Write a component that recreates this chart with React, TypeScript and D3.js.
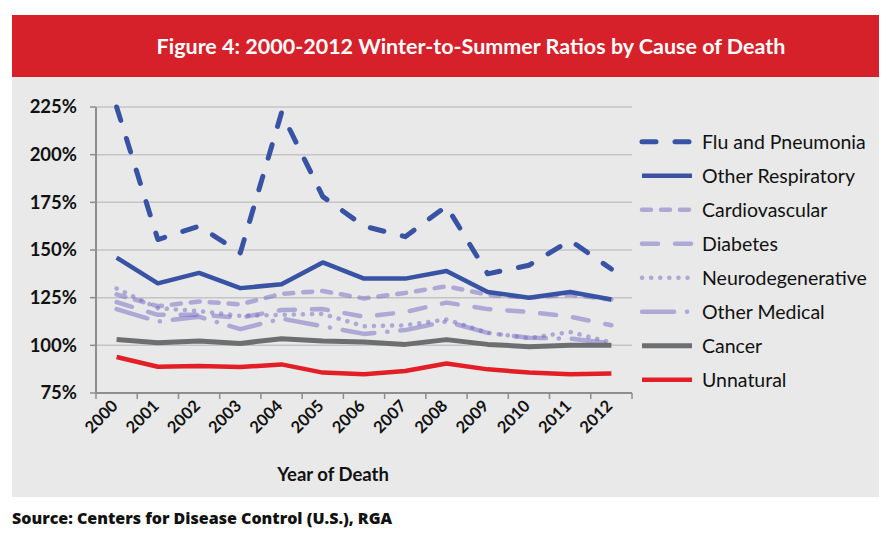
import React from "react";
import * as d3 from "d3";

const years = ["2000","2001","2002","2003","2004","2005","2006","2007","2008","2009","2010","2011","2012"];
const flu = [225, 155.5, 162.5, 148.5, 222, 178, 162.5, 157, 173, 137.5, 142, 155, 140];
const otherResp = [146, 132.5, 138, 130, 132, 143.5, 135, 135, 139, 128, 125, 128, 124];
const cardio = [126.7, 120.5, 123, 121.5, 127, 128.5, 124.6, 127.5, 131, 126.5, 125, 126.5, 124];
const diabetes = [122.7, 116, 116, 114.5, 118.5, 119, 115, 117.5, 122.4, 119, 117.5, 115, 110.5];
const neuro = [129.8, 119.5, 118, 115.5, 116, 116.5, 110, 110.5, 113.6, 106.6, 103.8, 107, 101.5];
const otherMed = [119, 112.5, 115, 108.5, 114, 110, 106, 108, 112.5, 106.5, 104, 103.5, 101];
const cancer = [103, 101.4, 102.3, 101, 103.5, 102.3, 101.7, 100.5, 103, 100.5, 99.3, 100, 100];
const unnatural = [93.9, 88.8, 89.2, 88.6, 90, 85.7, 84.8, 86.5, 90.5, 87.4, 85.7, 84.8, 85.2];
const yTicks = [75, 100, 125, 150, 175, 200, 225];

const BLUE = "#3953a4";
const LAV = "#7467c4";
const LAV_OP = 0.5;

type S = { name: string; values: number[]; color: string; width: number; dash?: string; opacity?: number };
const series: S[] = [
  { name: "Flu and Pneumonia", values: flu, color: BLUE, width: 5, dash: "14 19" },
  { name: "Other Respiratory", values: otherResp, color: BLUE, width: 4.5 },
  { name: "Cardiovascular", values: cardio, color: LAV, width: 4.5, dash: "9 10", opacity: LAV_OP },
  { name: "Diabetes", values: diabetes, color: LAV, width: 4.5, dash: "16 17", opacity: LAV_OP },
  { name: "Neurodegenerative", values: neuro, color: LAV, width: 4.5, dash: "0.1 9", opacity: LAV_OP },
  { name: "Other Medical", values: otherMed, color: LAV, width: 4.5, dash: "32 13 0.1 13", opacity: LAV_OP },
  { name: "Cancer", values: cancer, color: "#6d6e70", width: 5 },
  { name: "Unnatural", values: unnatural, color: "#e31e26", width: 4.5 },
];
const drawOrder = [2, 3, 4, 5, 0, 1, 6, 7];

export default function App() {
  const W = 892, H = 540;
  const x = d3.scaleBand<string>().domain(years).range([96, 632]);
  const y = d3.scaleLinear().domain([75, 225]).range([393, 107]);
  const cx = (yr: string) => (x(yr) as number) + x.bandwidth() / 2;
  const line = d3.line<number>().x((_, i) => cx(years[i])).y((v) => y(v));
  const font = "Lato, 'Open Sans', sans-serif";
  const boundaries = d3.range(years.length + 1).map((i) => 96 + i * x.step());

  return (
    <svg width={W} height={H} style={{ position: "absolute", left: 0, top: 0 }}>
      <rect x={0} y={0} width={W} height={H} fill="#ffffff" />
      <rect x={12} y={77} width={867} height={420} fill="#e8e9e8" />
      <rect x={12} y={15} width={867} height={62} fill="#d6202a" />
      <text x={471} y={54} textAnchor="middle" fill="#ffffff" fontFamily={font} fontWeight={700} fontSize={21.5}>
        Figure 4: 2000-2012 Winter-to-Summer Ratios by Cause of Death
      </text>

      {yTicks.filter((t) => t !== 75).map((t) => (
        <line key={"g" + t} x1={96} x2={632} y1={y(t)} y2={y(t)} stroke="#c4c4c4" strokeWidth={1.5} />
      ))}
      {yTicks.map((t) => (
        <g key={"yt" + t}>
          <line x1={90} x2={96} y1={y(t)} y2={y(t)} stroke="#8e8e8e" strokeWidth={1.5} />
          <text x={77} y={y(t)} dy="0.35em" textAnchor="end" fontFamily={font} fontWeight={700} fontSize={18.5} fill="#111">
            {t + "%"}
          </text>
        </g>
      ))}
      <line x1={96} x2={96} y1={107} y2={393} stroke="#8e8e8e" strokeWidth={2} />
      <line x1={96} x2={632} y1={393} y2={393} stroke="#8e8e8e" strokeWidth={2} />
      {boundaries.map((b, i) => (
        <line key={"xt" + i} x1={b} x2={b} y1={393} y2={399} stroke="#8e8e8e" strokeWidth={1.5} />
      ))}
      {years.map((yr) => (
        <text key={"xl" + yr} transform={`translate(${cx(yr) - 2},${403}) rotate(-45)`} textAnchor="end" dy="0.35em"
          fontFamily={font} fontWeight={700} fontSize={16.5} fill="#111">
          {yr}
        </text>
      ))}
      <text x={333} y={481} textAnchor="middle" fontFamily={font} fontWeight={700} fontSize={18.5} fill="#111">
        Year of Death
      </text>

      {drawOrder.map((i) => {
        const s = series[i];
        return (
          <path key={"s" + i} d={line(s.values) as string} fill="none" stroke={s.color} strokeWidth={s.width}
            strokeDasharray={s.dash} strokeOpacity={s.opacity ?? 1} strokeLinecap={s.dash ? "round" : "butt"}
            strokeLinejoin="round" />
        );
      })}

      {series.map((s, i) => {
        const ly = 141.7 + i * 34;
        return (
          <g key={"lg" + i}>
            <line x1={642} x2={692} y1={ly} y2={ly} stroke={s.color} strokeWidth={s.width}
              strokeDasharray={s.dash} strokeOpacity={s.opacity ?? 1} strokeLinecap={s.dash ? "round" : "butt"} />
            <text x={702} y={ly} dy="0.35em" fontFamily={font} fontSize={19.5} fill="#111">
              {s.name}
            </text>
          </g>
        );
      })}

      <text x={12} y={524} fontFamily="'Open Sans', sans-serif" fontWeight={800} fontSize={16} fill="#111">
        Source: Centers for Disease Control (U.S.), RGA
      </text>
    </svg>
  );
}
